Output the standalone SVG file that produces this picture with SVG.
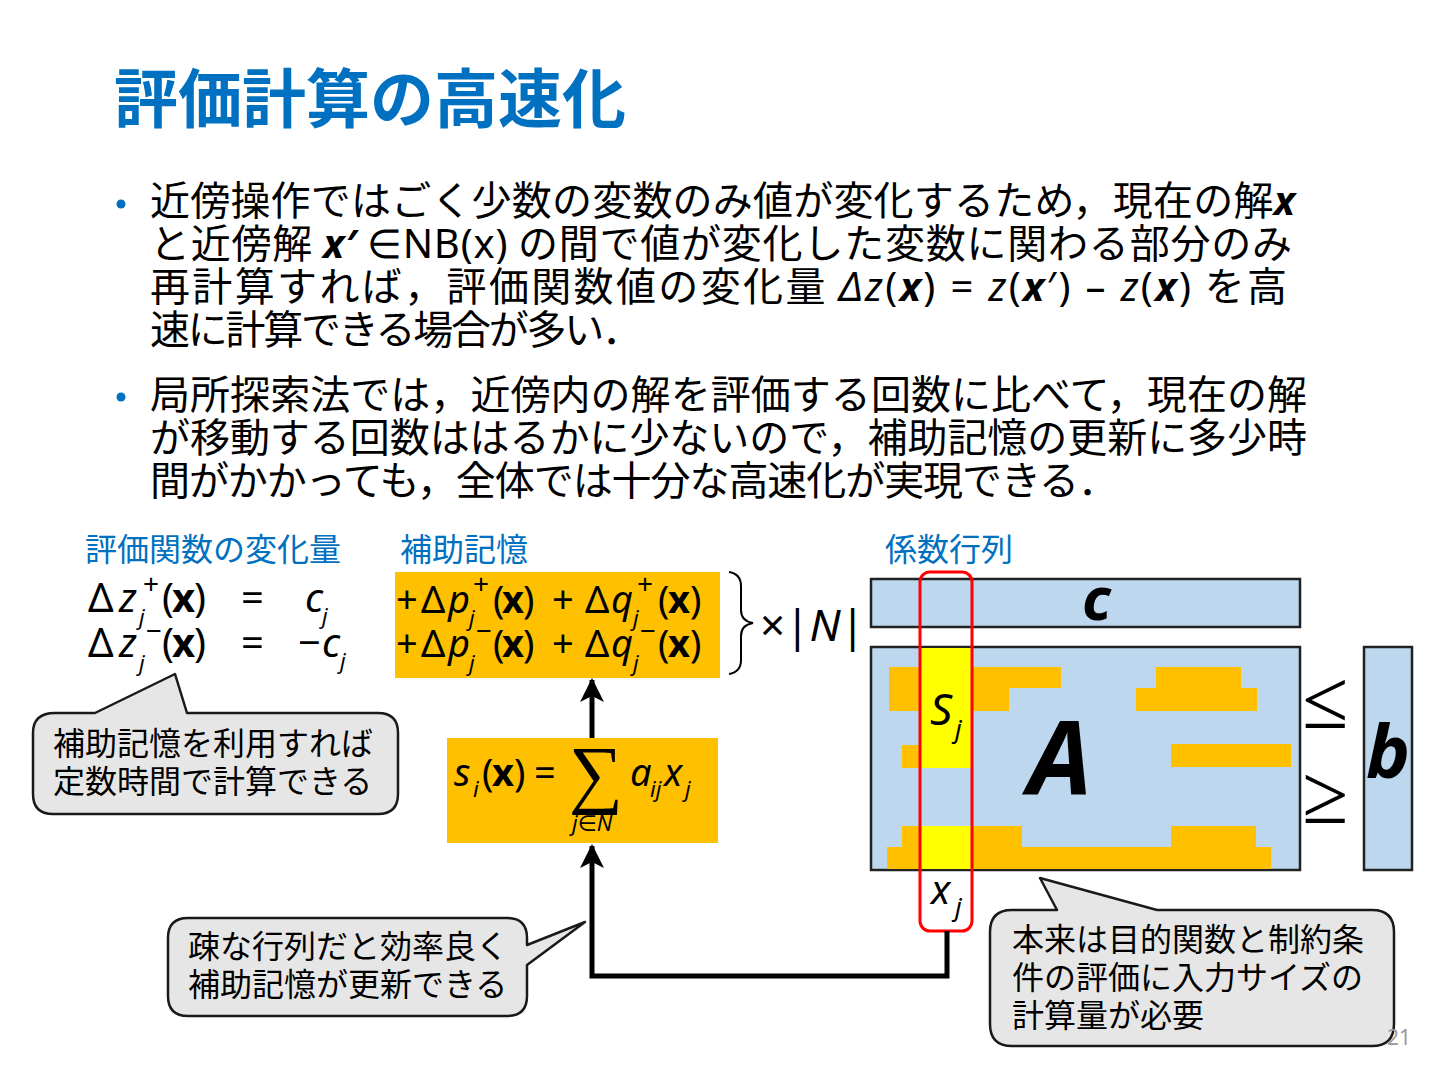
<svg xmlns="http://www.w3.org/2000/svg" width="1440" height="1080" viewBox="0 0 1440 1080">
<style>
.jp{font-family:"Noto Sans CJK JP","Noto Sans",sans-serif;fill:#000}
.title{font-family:"Noto Sans CJK JP",sans-serif;font-weight:bold;font-size:64px;fill:#0070C0}
.lbl{font-family:"Noto Sans CJK JP",sans-serif;font-size:32px;fill:#0070C0}
.body{font-size:40px}
.mi{font-family:"Noto Sans",sans-serif}
.m{font-family:"Noto Sans","DejaVu Sans",sans-serif;fill:#000}
.it{font-style:italic}
.bf{font-weight:bold}
.sup{font-size:28px}
.sub{font-size:22px;font-style:italic}
.call{fill:#E7E6E6;stroke:#1a1a1a;stroke-width:2.5;stroke-linejoin:round}
.ctext{font-size:32px}
.mat{fill:#BDD7EE;stroke:#222;stroke-width:2.5}
.org{fill:#FFC000}
.yel{fill:#FFFF00}
.conn{fill:none;stroke:#000;stroke-width:5}
</style>
<defs>
<marker id="ah" markerUnits="userSpaceOnUse" markerWidth="24" markerHeight="26" refX="22" refY="12" orient="auto">
<path d="M0,0 L24,12 L0,24 L6,12 Z" fill="#000"/>
</marker>
</defs>
<rect width="1440" height="1080" fill="#fff"/>

<g id="title"><text class="title" x="114" y="122">評価計算の高速化</text></g>

<g id="bullets">
<circle cx="121" cy="204" r="4.5" fill="#0070C0"/>
<text class="jp body" x="150" y="215" textLength="1145" lengthAdjust="spacing">近傍操作ではごく少数の変数のみ値が変化するため，現在の解<tspan class="mi bf it">x</tspan></text>
<text class="jp body" x="150" y="258" textLength="1142" lengthAdjust="spacing">と近傍解 <tspan class="mi bf it">x′</tspan> <tspan class="mi">∈NB(x)</tspan> の間で値が変化した変数に関わる部分のみ</text>
<text class="jp body" x="150" y="301" textLength="1137" lengthAdjust="spacing">再計算すれば，評価関数値の変化量 <tspan class="mi it">Δz</tspan><tspan class="mi">(</tspan><tspan class="mi bf it">x</tspan><tspan class="mi">) = </tspan><tspan class="mi it">z</tspan><tspan class="mi">(</tspan><tspan class="mi bf it">x</tspan><tspan class="mi">′) – </tspan><tspan class="mi it">z</tspan><tspan class="mi">(</tspan><tspan class="mi bf it">x</tspan><tspan class="mi">)</tspan> を高</text>
<text class="jp body" x="150" y="344" textLength="492" lengthAdjust="spacing">速に計算できる場合が多い．</text>
<circle cx="121" cy="397" r="4.5" fill="#0070C0"/>
<text class="jp body" x="150" y="409" textLength="1157" lengthAdjust="spacing">局所探索法では，近傍内の解を評価する回数に比べて，現在の解</text>
<text class="jp body" x="150" y="452" textLength="1157" lengthAdjust="spacing">が移動する回数ははるかに少ないので，補助記憶の更新に多少時</text>
<text class="jp body" x="150" y="495" textLength="968" lengthAdjust="spacing">間がかかっても，全体では十分な高速化が実現できる．</text>
</g>

<g id="labels">
<text class="lbl" x="85" y="561">評価関数の変化量</text>
<text class="lbl" x="400" y="561">補助記憶</text>
<text class="lbl" x="885" y="561">係数行列</text>
</g>

<g id="delta-z" class="m">
<text x="88" y="612" font-size="40">Δ</text>
<text x="119" y="612" font-size="40" class="it">z</text>
<text x="143" y="594" class="sup">+</text>
<text x="139" y="625" class="sub">j</text>
<text x="162" y="612" font-size="40">(</text>
<text x="172" y="612" font-size="40" class="bf">x</text>
<text x="194" y="612" font-size="40">)</text>
<text x="241" y="612" font-size="40">=</text>
<text x="305" y="612" font-size="40" class="it">c</text>
<text x="322" y="624" class="sub">j</text>
<text x="88" y="657" font-size="40">Δ</text>
<text x="119" y="657" font-size="40" class="it">z</text>
<text x="146" y="641" class="sup">−</text>
<text x="139" y="671" class="sub">j</text>
<text x="162" y="657" font-size="40">(</text>
<text x="172" y="657" font-size="40" class="bf">x</text>
<text x="194" y="657" font-size="40">)</text>
<text x="241" y="657" font-size="40">=</text>
<text x="298" y="657" font-size="40">−</text>
<text x="322" y="657" font-size="40" class="it">c</text>
<text x="340" y="669" class="sub">j</text>
</g>

<g id="aux-memory">
<rect class="org" x="395" y="572" width="325" height="106"/>
<g class="m" font-size="38">
<text x="396" y="613">+</text>
<text x="421" y="613">Δ</text>
<text x="448" y="613" class="it">p</text>
<text x="473" y="594" class="sup">+</text>
<text x="469" y="626" class="sub">j</text>
<text x="493" y="613">(</text>
<text x="502" y="613" class="bf">x</text>
<text x="523" y="613">)</text>
<text x="552" y="613">+</text>
<text x="585" y="613">Δ</text>
<text x="611" y="613" class="it">q</text>
<text x="637" y="594" class="sup">+</text>
<text x="633" y="626" class="sub">j</text>
<text x="658" y="613">(</text>
<text x="668" y="613" class="bf">x</text>
<text x="690" y="613">)</text>
<text x="396" y="657">+</text>
<text x="421" y="657">Δ</text>
<text x="448" y="657" class="it">p</text>
<text x="476" y="641" class="sup">−</text>
<text x="469" y="671" class="sub">j</text>
<text x="493" y="657">(</text>
<text x="502" y="657" class="bf">x</text>
<text x="523" y="657">)</text>
<text x="552" y="657">+</text>
<text x="585" y="657">Δ</text>
<text x="611" y="657" class="it">q</text>
<text x="640" y="641" class="sup">−</text>
<text x="633" y="671" class="sub">j</text>
<text x="658" y="657">(</text>
<text x="668" y="657" class="bf">x</text>
<text x="690" y="657">)</text>
</g>
</g>

<g id="brace">
<path d="M729,572 Q741,574 741,586 L741,610 Q741,621 753,623 Q741,625 741,636 L741,660 Q741,672 729,674" fill="none" stroke="#000" stroke-width="2"/>
<text class="m" x="760" y="641" font-size="44">×|<tspan class="it">N</tspan>|</text>
</g>

<g id="sum-box">
<rect class="org" x="447" y="738" width="271" height="105"/>
<g class="m">
<text x="454" y="786" font-size="38" class="it">s</text>
<text x="473" y="797" class="sub">i</text>
<text x="482" y="786" font-size="38">(</text>
<text x="492" y="786" font-size="38" class="bf">x</text>
<text x="514" y="786" font-size="38">)</text>
<text x="534" y="786" font-size="38">=</text>
<text x="569" y="799" font-size="76" font-family="DejaVu Sans" font-weight="200">∑</text>
<text x="572" y="831" font-size="22" class="it">j<tspan font-style="normal">∈</tspan>N</text>
<text x="630" y="786" font-size="38" class="it">a</text>
<text x="650" y="797" class="sub">ij</text>
<text x="664" y="786" font-size="38" class="it">x</text>
<text x="685" y="797" class="sub">j</text>
</g>
</g>

<g id="matrix">
<rect class="mat" x="871" y="579" width="429" height="48"/>
<text class="m it bf" x="1082" y="620" font-size="60">c</text>
<rect class="mat" x="871" y="647" width="429" height="223"/>
<path class="org" d="M889,667 H1061 V688 H1009 V711 H889 Z"/>
<path class="org" d="M1156,667 H1241 V688 H1257 V711 H1136 V688 H1156 Z"/>
<rect class="org" x="902" y="745" width="20" height="23"/>
<rect class="org" x="1171" y="744" width="120" height="23"/>
<path class="org" d="M902,826 H1022 V847 H1171 V826 H1256 V847 H1271 V869 H887 V847 H902 Z"/>
<rect class="yel" x="921" y="648" width="50" height="120"/>
<rect class="yel" x="921" y="826" width="50" height="43"/>
<text class="m it bf" x="1028" y="794" font-size="102">A</text>
<text class="m it" x="930" y="725" font-size="44">S</text>
<text class="m it" x="955" y="738" font-size="26">j</text>
<rect class="mat" x="1364" y="647" width="48" height="223"/>
<text class="m it bf" x="1366" y="778" font-size="74">b</text>
<text x="1302" y="728" font-size="84" font-family="DejaVu Sans" font-weight="200">≤</text>
<text x="1302" y="823" font-size="84" font-family="DejaVu Sans" font-weight="200">≥</text>
<rect x="920" y="572" width="52" height="359" rx="10" fill="none" stroke="#FF0000" stroke-width="3"/>
<text class="m it" x="931" y="904" font-size="40">x</text>
<text class="m it" x="955" y="916" font-size="26">j</text>
</g>

<g id="connectors">
<line class="conn" x1="592" y1="738" x2="592" y2="680" marker-end="url(#ah)"/>
<path class="conn" d="M947,931 V976 H592 V846" marker-end="url(#ah)"/>
</g>

<g id="callout-const">
<path class="call" d="M55,713 H95 L175,674 L187,713 H378 Q398,713 398,733 V794 Q398,814 378,814 H53 Q33,814 33,794 V733 Q33,713 55,713 Z"/>
<text class="jp ctext" x="53" y="755">補助記憶を利用すれば</text>
<text class="jp ctext" x="53" y="793">定数時間で計算できる</text>
</g>

<g id="callout-sparse">
<path class="call" d="M188,918 H507 Q527,918 527,938 V945 L585,922 L527,965 V996 Q527,1016 507,1016 H188 Q168,1016 168,996 V938 Q168,918 188,918 Z"/>
<text class="jp ctext" x="188" y="958">疎な行列だと効率良く</text>
<text class="jp ctext" x="188" y="996">補助記憶が更新できる</text>
</g>

<g id="callout-orig">
<path class="call" d="M1012,910 H1057 L1040,878 L1157,910 H1372 Q1394,910 1394,932 V1024 Q1394,1046 1372,1046 H1012 Q990,1046 990,1024 V932 Q990,910 1012,910 Z"/>
<text class="jp" x="1012" y="951" font-size="32">本来は目的関数と制約条</text>
<text class="jp" x="1012" y="989" font-size="32">件の評価に入力サイズの</text>
<text class="jp" x="1012" y="1027" font-size="32">計算量が必要</text>
</g>

<text x="1387" y="1045" font-family="Noto Sans, sans-serif" font-size="21" fill="#999">21</text>
</svg>
